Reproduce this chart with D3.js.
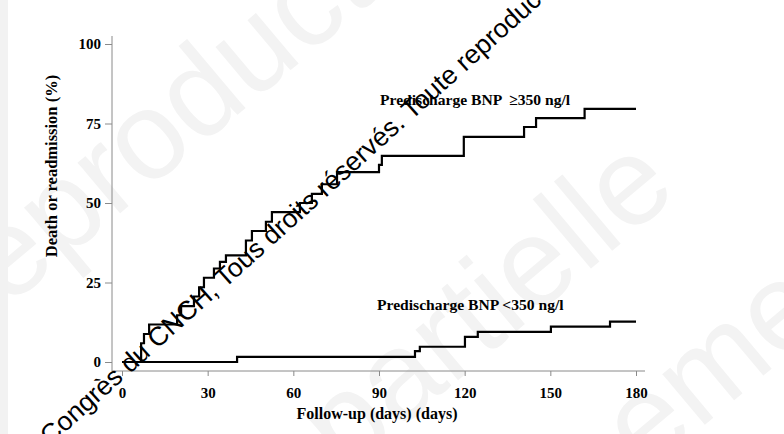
<!DOCTYPE html>
<html>
<head>
<meta charset="utf-8">
<script src="https://cdn.jsdelivr.net/npm/d3@7"></script>
<style>
  body { margin: 0; background: #fff; }
  svg { display: block; }
</style>
</head>
<body>
<svg id="chart" width="784" height="434"></svg>
<script>
// follow-up in days, cumulative event rate in %
const highDays = [0, 6.7, 7.7, 9.5, 19.3, 20.7, 25.2, 27, 28.7, 32.2, 34.3, 36.4, 43.4, 45.5, 50.4, 52.5, 62.3, 66.5, 70, 75.3, 90, 91, 119.7, 140.8, 145, 162, 180]
const highPct = [0, 5.9, 8.8, 11.8, 14.7, 17.6, 20.6, 23.5, 26.5, 29.4, 31.5, 33.5, 38.2, 41.2, 44.1, 47.1, 50, 52.9, 55.9, 59.7, 62, 64.8, 70.8, 73.9, 76.7, 79.6, 79.6]
const lowDays = [0, 40.3, 102.6, 104.3, 120.1, 124.6, 150.2, 170.9, 180]
const lowPct = [0, 1.6, 3.4, 4.8, 7.9, 9.5, 11.1, 12.7, 12.7]

const xTicks = [0, 30, 60, 90, 120, 150, 180]
const yTicks = [0, 25, 50, 75, 100]

const labelHigh = "Predischarge BNP \u00a0\u2265350 ng/l"
const labelLow = "Predischarge BNP <350 ng/l"
const xTitle = "Follow-up (days) (days)"
const yTitle = "Death or readmission (%)"
const stamp = "Congrès du CNCH, Tous droits réservés. Toute reproduction"

const svg = d3.select("#chart")
const serif = "'Liberation Serif', 'Times New Roman', serif"

// faint background watermark
const faint = svg.append("g")
    .style("font-family", "'Liberation Sans', Arial, sans-serif")
    .style("font-size", "125px")
    .style("fill", "#f3f3f3")
faint.append("text").attr("transform", "translate(-25,335) rotate(-40)").text("reproduction")
faint.append("text").attr("transform", "translate(345,475) rotate(-40)").text("partielle")
faint.append("text").attr("transform", "translate(645,475) rotate(-40)").text("ement")

svg.append("rect")
    .attr("x", 0).attr("y", 0).attr("width", 8).attr("height", 434)
    .style("fill", "#f2f2f2")

const x = d3.scaleLinear().domain([0, 180]).range([122, 636])
const y = d3.scaleLinear().domain([0, 100]).range([362, 44])

const axisX = 112
const axisY = 371

// y axis
const gy = svg.append("g")
    .attr("transform", `translate(${axisX},0)`)
    .call(d3.axisLeft(y).tickValues(yTicks).tickSize(7).tickPadding(4))
gy.select(".domain").remove()
gy.selectAll(".tick line").style("stroke", "#8a8a8a")
gy.selectAll(".tick text")
    .style("font-family", serif).style("font-weight", "bold")
    .style("font-size", "15px").style("fill", "#000")
gy.append("line")
    .attr("x1", 0).attr("x2", 0)
    .attr("y1", y(100) - 8).attr("y2", axisY)
    .style("stroke", "#8a8a8a")

// x axis
const gx = svg.append("g")
    .attr("transform", `translate(0,${axisY})`)
    .call(d3.axisBottom(x).tickValues(xTicks).tickSize(5).tickPadding(11))
gx.select(".domain").remove()
gx.selectAll(".tick line").style("stroke", "#8a8a8a")
gx.selectAll(".tick text")
    .style("font-family", serif).style("font-weight", "bold")
    .style("font-size", "15px").style("fill", "#000")
gx.append("line")
    .attr("x1", axisX).attr("x2", x(180) + 9)
    .attr("y1", 0).attr("y2", 0)
    .style("stroke", "#8a8a8a")

// survival steps
const line = d3.line()
    .x(d => x(d[0]))
    .y(d => y(d[1]))
    .curve(d3.curveStepAfter)

svg.append("path")
    .datum(lowDays.map((d, i) => [d, lowPct[i]]))
    .attr("d", line)
    .style("fill", "none").style("stroke", "#000").style("stroke-width", 2.2)

svg.append("path")
    .datum(highDays.map((d, i) => [d, highPct[i]]))
    .attr("d", line)
    .style("fill", "none").style("stroke", "#000").style("stroke-width", 2.2)

// curve labels
svg.append("text")
    .attr("x", 380).attr("y", 105)
    .style("font-family", serif).style("font-weight", "bold").style("font-size", "15.6px")
    .text(labelHigh)
svg.append("text")
    .attr("x", 377).attr("y", 310)
    .style("font-family", serif).style("font-weight", "bold").style("font-size", "15.6px")
    .text(labelLow)

// axis titles
svg.append("text")
    .attr("transform", `translate(57,166) rotate(-90)`)
    .attr("text-anchor", "middle")
    .style("font-family", serif).style("font-weight", "bold").style("font-size", "16.5px")
    .text(yTitle)
svg.append("text")
    .attr("x", 377).attr("y", 419)
    .attr("text-anchor", "middle")
    .style("font-family", serif).style("font-weight", "bold").style("font-size", "16px")
    .text(xTitle)

// diagonal copyright stamp
svg.append("text")
    .attr("transform", "translate(50,446) rotate(-42)")
    .style("font-family", "'Liberation Sans', Arial, sans-serif")
    .style("font-size", "26.5px")
    .style("fill", "#000")
    .text(stamp)
</script>
</body>
</html>
